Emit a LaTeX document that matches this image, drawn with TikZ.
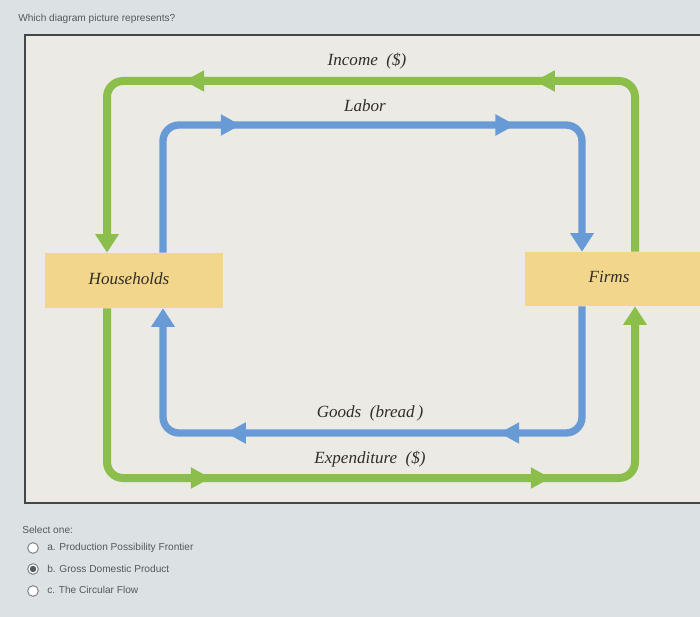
\documentclass[tikz,border=0pt]{standalone}
\usepackage{fontspec}
\setmainfont{Liberation Serif}
\setsansfont{Liberation Sans}
\usetikzlibrary{arrows.meta,decorations.markings}
\definecolor{cgreen}{RGB}{140,190,75}
\definecolor{cblue}{RGB}{104,155,214}
\definecolor{cbox}{RGB}{242,214,140}
\definecolor{cpanel}{RGB}{236,234,229}
\definecolor{couter}{RGB}{220,226,228}
\definecolor{ctext}{RGB}{85,88,92}
\definecolor{clabel}{RGB}{50,45,40}
\tikzset{
  box/.style={fill=cbox, inner sep=0pt},
  lbl/.style={text=clabel, font=\fontsize{12.8}{14}\selectfont\itshape, inner sep=0pt},
  ui/.style={text=ctext, font=\sffamily\fontsize{7.6}{9}\selectfont, inner sep=0pt, anchor=west},
  tipend/.style={-{Triangle[length=14pt,width=17pt]}},
  flow/.style={line width=#1, rounded corners=12pt, tipend, postaction=decorate},
  gflow/.style={flow=6pt, color=cgreen},
  bflow/.style={flow=5.5pt, color=cblue},
  marks/.style 2 args={decoration={markings,
     mark=at position #1 with {\arrow{Triangle[length=15pt,width=15pt]}},
     mark=at position #2 with {\arrow{Triangle[length=15pt,width=15pt]}}}},
  radio/.style={circle, draw=ctext!70, fill=white, line width=0.8pt, minimum size=8pt, inner sep=0pt},
}
\begin{document}
\begin{tikzpicture}[x=0.75pt,y=-0.75pt]
\useasboundingbox (0,0) rectangle (700,617);
\fill[couter] (0,0) rectangle (700,617);
\fill[cpanel] (25,35) rectangle (702,503);
\draw[ctext!80!black, line width=0.9pt] (702,35) -- (25,35) -- (25,503) -- (702,503);

\node[ui] (q) at (18,19) {Which diagram picture represents?};

\node[box, minimum width=133.5pt, minimum height=41.25pt] (hh) at (134,280.5) {};
\node[lbl] (hhlbl) at (129,279) {Households};
\node[box, minimum width=131.25pt, minimum height=40.5pt] (firms) at (612.5,279) {};
\node[lbl] (firmslbl) at (609,277) {Firms};

\coordinate (gR) at (635,81);
\coordinate (gL) at (107,478);
\coordinate (bR) at (582,433);
\coordinate (bL) at (163,125);

% Income (green, top)
\draw[gflow, marks={198pt}{461pt}] (firms.north -| gR) -- (gR) -- (gR -| gL) -- (hh.north -| gL);
% Labor (blue, top)
\draw[bflow, marks={149pt}{355pt}] (hh.north -| bL) -- (bL) -- (bL -| bR) -- (firms.north -| bR);
% Goods (blue, bottom)
\draw[bflow, marks={152pt}{357pt}] (firms.south -| bR) -- (bR) -- (bR -| bL) -- (hh.south -| bL);
% Expenditure (green, bottom)
\draw[gflow, marks={200pt}{455pt}] (hh.south -| gL) -- (gL) -- (gL -| gR) -- (firms.south -| gR);

\node[lbl] (income) at (367,61) {Income\ \ (\$)};
\node[lbl] (labor) at (365,106) {Labor};
\node[lbl] (goods) at (370,413) {Goods\ \ (bread\,)};
\node[lbl] (exp) at (370,459) {Expenditure\ \ (\$)};

\node[ui] (sel) at (22,530) {Select one:};
\node[radio] (ra) at (33,548) {};
\node[radio] (rb) at (33,569) {};
\fill[ctext] (rb) circle (2.4pt);
\node[radio] (rc) at (33,591) {};
\node[ui] (oa) at (47,548) {a. Production Possibility Frontier};
\node[ui] (ob) at (47,569) {b. Gross Domestic Product};
\node[ui] (oc) at (47,590) {c. The Circular Flow};
\end{tikzpicture}
\end{document}
